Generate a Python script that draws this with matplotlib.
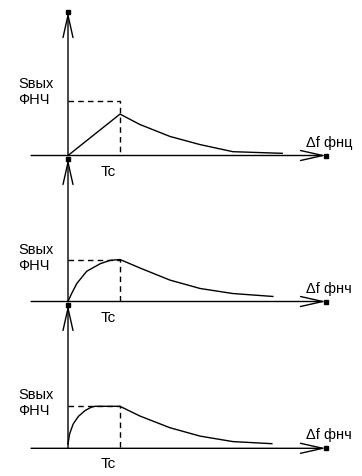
import matplotlib
matplotlib.use('Agg')
import matplotlib.pyplot as plt

plt.rcParams['font.family'] = ['Liberation Sans', 'DejaVu Sans']

# curve samples, x in units of Tc, y in units of the dashed level
p1_x = [0, 1.0, 1.38, 1.96, 2.54, 3.17, 4.12]
p1_y = [0, 0.76, 0.57, 0.35, 0.20, 0.07, 0.04]

p2_x = [0, 0.07, 0.17, 0.36, 0.62, 0.81, 1.0, 1.38, 1.96, 2.54, 3.17, 3.94]
p2_y = [0, 0.19, 0.43, 0.72, 0.90, 0.98, 1.0, 0.80, 0.51, 0.31, 0.19, 0.12]

p3_x = [0, 0.03, 0.10, 0.20, 0.33, 0.45, 0.52, 1.0, 1.38, 1.96, 2.54, 3.17, 3.92]
p3_y = [0.10, 0.34, 0.58, 0.76, 0.90, 0.98, 1.0, 1.0, 0.77, 0.49, 0.29, 0.16, 0.11]

tc = 1.0
level = 1.0
y_label = 'Sвых\nФНЧ'
t_label = 'Tc'
x_labels = ['Δf фнц', 'Δf фнч', 'Δf фнч']

W, H = 362, 477
fig = plt.figure(figsize=(W / 100, H / 100), dpi=100)

# (top row, bottom row, origin row, px per y unit, y-axis tip, label y)
panels = [
    (0, 160, 156.5, 54.5, 2.63, 1.19),
    (158, 305, 302.5, 42.0, 3.39, 1.05),
    (304, 477, 449.3, 42.0, 3.41, 1.10),
]
curves = [(p1_x, p1_y), (p2_x, p2_y), (p3_x, p3_y)]

x0_px, xs = 68, 52.0
x_left, x_tip = -0.71, 4.96
arrow = dict(arrowstyle='->,head_length=1.6,head_width=0.36', lw=1.0,
             color='black', shrinkA=0, shrinkB=0)

for i, (top, bot, org, ys, ytip, ly) in enumerate(panels):
    ax = fig.add_axes([0, 1 - bot / H, 1, (bot - top) / H])
    ax.set_xlim(-x0_px / xs, (W - x0_px) / xs)
    ax.set_ylim(-(bot - org) / ys, (org - top) / ys)
    ax.axis('off')

    # axes with open arrowheads
    ax.annotate('', xy=(x_tip, 0), xytext=(x_left, 0), arrowprops=arrow,
                annotation_clip=False)
    ax.annotate('', xy=(0, ytip), xytext=(0, 0), arrowprops=arrow,
                annotation_clip=False)
    ax.plot([x_tip, 0], [0, ytip], 's', color='black', ms=2.2, clip_on=False)

    # dashed guides
    ax.plot([0, tc, tc], [level, level, 0], color='black', lw=1.0,
            ls=(0, (4, 3)), clip_on=False)

    cx, cy = curves[i]
    ax.plot(cx, cy, color='black', lw=1.0, clip_on=False)

    ax.text(-0.96, ly, y_label, fontsize=10.5, ha='left', va='center',
            linespacing=1.2)
    ax.text(0.77, -15 / ys, t_label, fontsize=11, ha='center', va='center')
    ax.text(4.57, 14 / ys, x_labels[i], fontsize=10.5, ha='left',
            va='center')

fig.savefig('out.png', dpi=100)
